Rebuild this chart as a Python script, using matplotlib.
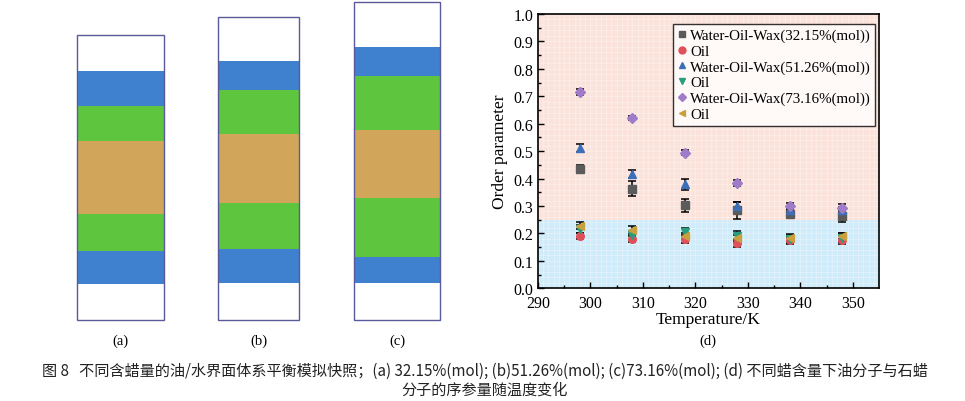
import matplotlib
matplotlib.use("Agg")
import matplotlib.pyplot as plt
from matplotlib.patches import Rectangle
from matplotlib.lines import Line2D
import numpy as np

# ---------------- data ----------------
temps = [298, 308, 318, 328, 338, 348]
wax32 = [0.434, 0.363, 0.302, 0.284, 0.272, 0.262]
wax32_err = [0.015, 0.027, 0.025, 0.030, 0.012, 0.022]
oil32 = [0.190, 0.180, 0.180, 0.165, 0.175, 0.175]
oil32_err = [0.012, 0.012, 0.015, 0.015, 0.012, 0.015]
wax51 = [0.512, 0.418, 0.379, 0.300, 0.284, 0.284]
wax51_err = [0.015, 0.015, 0.020, 0.015, 0.012, 0.012]
oil51 = [0.215, 0.195, 0.205, 0.190, 0.180, 0.185]
oil51_err = [0.015, 0.015, 0.015, 0.020, 0.015, 0.018]
wax73 = [0.715, 0.620, 0.495, 0.384, 0.300, 0.293]
wax73_err = [0.010, 0.008, 0.008, 0.010, 0.012, 0.015]
oil73 = [0.228, 0.213, 0.190, 0.183, 0.185, 0.190]
oil73_err = [0.012, 0.015, 0.012, 0.012, 0.012, 0.012]

legend_labels = ["Water-Oil-Wax(32.15%(mol))", "Oil",
                 "Water-Oil-Wax(51.26%(mol))", "Oil",
                 "Water-Oil-Wax(73.16%(mol))", "Oil"]
xticks = [290, 300, 310, 320, 330, 340, 350]
yticks = [0.0, 0.1, 0.2, 0.3, 0.4, 0.5, 0.6, 0.7, 0.8, 0.9, 1.0]
threshold = 0.25

# snapshot layers (pixel rows): box top, blue, green, oil, green, blue, bottom of blue, box bottom
snap_labels = ["(a)", "(b)", "(c)"]
snap_x = [(77, 164), (218, 299), (354, 440)]
snap_layers = [
    [36, 72, 107, 142, 215, 252, 285, 321],
    [18, 62, 91, 135, 204, 250, 284, 321],
    [3, 48, 77, 131, 199, 258, 284, 321],
]
caption1 = "图 8   不同含蜡量的油/水界面体系平衡模拟快照；(a) 32.15%(mol); (b)51.26%(mol); (c)73.16%(mol); (d) 不同蜡含量下油分子与石蜡"
caption2 = "分子的序参量随温度变化"

# ---------------- figure ----------------
W, H = 965, 402
fig = plt.figure(figsize=(W / 100, H / 100), dpi=100)
fig.patch.set_facecolor("white")
serif = "Liberation Serif"

# snapshots in pixel-space axes
sa = fig.add_axes([0, 0, 1, 1])
sa.set_xlim(0, W)
sa.set_ylim(H, 0)
sa.axis("off")
blue, green, tan = "#3f80cf", "#5ec53e", "#d2a65a"
for (x0, x1), rows, lab in zip(snap_x, snap_layers, snap_labels):
    cols = ["white", blue, green, tan, green, blue, "white"]
    for i, c in enumerate(cols):
        sa.add_patch(Rectangle((x0, rows[i]), x1 - x0, rows[i + 1] - rows[i],
                               facecolor=c, edgecolor="none", zorder=1))
    sa.add_patch(Rectangle((x0, rows[0]), x1 - x0, rows[-1] - rows[0],
                           facecolor="none", edgecolor="#5a5a9a", lw=1.0, zorder=2))
    sa.text((x0 + x1) / 2, 341, lab, ha="center", va="center",
            fontsize=10.5, family=serif)

sa.text(485, 371, caption1, ha="center", va="center", fontsize=10.9,
        family=["Noto Sans CJK SC", "DejaVu Sans"], color="#222222")
sa.text(485, 390, caption2, ha="center", va="center", fontsize=10.9,
        family=["Noto Sans CJK SC", "DejaVu Sans"], color="#222222")

# chart
ax = fig.add_axes([538 / W, 1 - 289.3 / H, (879 - 538) / W, (289.3 - 15) / H])
ax.set_xlim(290, 355)
ax.set_ylim(0, 1.0)
ax.axhspan(threshold, 1.0, facecolor="#fbe3dc", edgecolor="none", zorder=0)
ax.axhspan(0, threshold, facecolor="#d0ebf9", edgecolor="none", zorder=0)
for xv in np.arange(290, 355.1, 1.0):
    ax.axvline(xv, color="white", lw=0.4, alpha=0.5, zorder=0.5)
for yv in np.arange(0, 1.001, 0.02):
    ax.axhline(yv, color="white", lw=0.4, alpha=0.5, zorder=0.5)

series = [
    (wax32, wax32_err, "s", "#5b5b5b"),
    (oil32, oil32_err, "o", "#e0505a"),
    (wax51, wax51_err, "^", "#3d6fb8"),
    (oil51, oil51_err, "v", "#2a9d7c"),
    (wax73, wax73_err, "D", "#a07cc8"),
    (oil73, oil73_err, "<", "#c9a03e"),
]
handles = []
for (vals, errs, mk, col), lab in zip(series, legend_labels):
    ms = 5.5 if mk != "D" else 4.6
    ax.errorbar(temps, vals, yerr=errs, fmt=mk, color=col, ms=ms,
                mec=col, ecolor="black", elinewidth=1.1, capsize=2.8,
                capthick=1.1, zorder=3)
    handles.append(Line2D([], [], marker=mk, color=col, ls="none", ms=5 if mk != "D" else 4.2))

leg = ax.legend(handles, legend_labels, loc="upper right",
                bbox_to_anchor=(0.989, 0.964), prop={"family": serif, "size": 10.8},
                frameon=True, fancybox=False, edgecolor="black",
                handlelength=0.6, handletextpad=0.2, labelspacing=0.15,
                borderpad=0.3, borderaxespad=0.0)
leg.get_frame().set_linewidth(1.0)

ax.set_xticks(xticks)
ax.set_yticks(yticks)
ax.set_xticks(np.arange(295, 355, 10), minor=True)
ax.set_yticks(np.arange(0.05, 1.0, 0.1), minor=True)
ax.set_xticklabels([str(t) for t in xticks], family=serif, fontsize=11.5)
ax.set_yticklabels([f"{t:.1f}" for t in yticks], family=serif, fontsize=11.5)
ax.tick_params(direction="in", length=4, width=1, which="major", top=False, right=False)
ax.tick_params(axis="x", pad=5)
ax.tick_params(direction="in", length=2, width=1, which="minor", top=False, right=False)
for s in ax.spines.values():
    s.set_linewidth(1.2)
ax.set_xlabel("Temperature/K", family=serif, fontsize=12.5, labelpad=0)
ax.set_ylabel("Order parameter", family=serif, fontsize=12.5, labelpad=4)
sa.text(708, 341, "(d)", ha="center", va="center", fontsize=10.5, family=serif)

fig.savefig("out.png", dpi=100)
